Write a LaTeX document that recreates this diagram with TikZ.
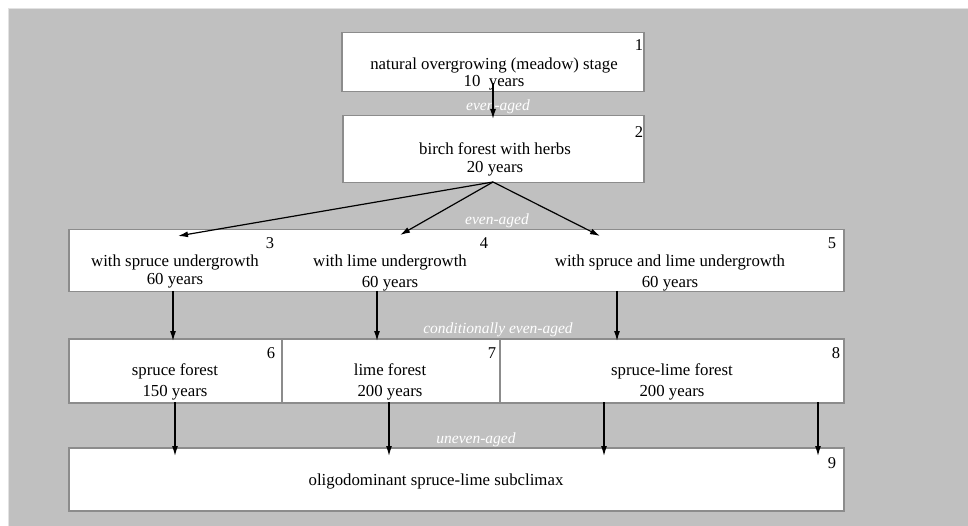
\documentclass[tikz,border=0pt]{standalone}
\usepackage{fontspec}
\setmainfont{Liberation Serif}
\usetikzlibrary{arrows.meta}
\definecolor{bggray}{HTML}{C0C0C0}
\definecolor{boxgray}{HTML}{8C8C8C}
\definecolor{edgegray}{HTML}{E2E2E2}
\tikzset{
  stagebox/.style={fill=white, draw=boxgray, line width=1.5pt, inner sep=0pt, anchor=north west},
  stagetext/.style={align=center, inner sep=0pt, font=\fontsize{16.8}{#1}\selectfont},
  stagetext/.default=19pt,
  numlab/.style={inner sep=0pt, font=\fontsize{16.5}{18}\selectfont},
  agelab/.style={inner sep=0pt, text=white, font=\fontsize{15.5}{17}\selectfont\itshape},
  arr/.style={line width=1.2pt, -{Latex[length=10pt,width=6pt]}}
}
\begin{document}
\begin{tikzpicture}[x=1pt,y=-1pt]
\useasboundingbox (0,0) rectangle (968,526);
\fill[white] (0,0) rectangle (968,526);
\fill[bggray] (8,9) rectangle (968,526);
\draw[edgegray, line width=1pt] (8,526) -- (8,9) -- (968,9);

% boxes
\node[stagebox, minimum width=302, minimum height=59] (b1) at (341,32) {};
\node[stagebox, minimum width=301, minimum height=67] (b2) at (342,115) {};
\node[stagebox, minimum width=775, minimum height=62] (r3) at (68,229) {};
\node[stagebox, minimum width=213, minimum height=64] (b6) at (68,338) {};
\node[stagebox, minimum width=218, minimum height=64] (b7) at (281,338) {};
\node[stagebox, minimum width=344, minimum height=64] (b8) at (499,338) {};
\node[stagebox, minimum width=775, minimum height=63] (b9) at (68,447) {};

% texts
\node[stagetext=17pt] (t1) at (494,74) {natural overgrowing (meadow) stage\\10~ years};
\node[stagetext=18pt] (t2) at (495,159) {birch forest with herbs\\20 years};
\node[stagetext=18pt] (t3) at (175,271) {with spruce undergrowth\\60 years};
\node[stagetext=21pt] (t4) at (390,272.5) {with lime undergrowth\\60 years};
\node[stagetext=21pt] (t5) at (670,272.5) {with spruce and lime undergrowth\\60 years};
\node[stagetext=21pt] (t6) at (175,381.5) {spruce forest\\150 years};
\node[stagetext=21pt] (t7) at (390,381.5) {lime forest\\200 years};
\node[stagetext=21pt] (t8) at (672,381.5) {spruce-lime forest\\200 years};
\node[stagetext] (t9) at (436,481) {oligodominant spruce-lime subclimax};

% numbers
\node[numlab] (n1) at (639,45) {1};
\node[numlab] (n2) at (639,132) {2};
\node[numlab] (n3) at (270,243) {3};
\node[numlab] (n4) at (484,243) {4};
\node[numlab] (n5) at (832,243) {5};
\node[numlab] (n6) at (271,353) {6};
\node[numlab] (n7) at (492,353) {7};
\node[numlab] (n8) at (836,353) {8};
\node[numlab] (n9) at (832,463) {9};

% connector end points
\coordinate (p1s) at (493,83);
\coordinate (p2n) at (493,119);
\coordinate (p2s) at (493,182);
\coordinate (p3n) at (178,236);
\coordinate (p4n) at (400,235);
\coordinate (p5n) at (600,236);
\coordinate (p3s) at (173,291);
\coordinate (p6n) at (173,341);
\coordinate (p4s) at (377,291);
\coordinate (p7n) at (377,341);
\coordinate (p5s) at (617,291);
\coordinate (p8n) at (617,341);
\coordinate (p6s) at (175,402);
\coordinate (p9a) at (175,456);
\coordinate (p7s) at (389,402);
\coordinate (p9b) at (389,456);
\coordinate (p8s) at (604,402);
\coordinate (p9c) at (604,456);
\coordinate (p8t) at (818,402);
\coordinate (p9d) at (818,456);

% age labels
\node[agelab] (l1) at (498,107) {even-aged};
\node[agelab] (l2) at (497,221) {even-aged};
\node[agelab] (l3) at (498,330) {conditionally even-aged};
\node[agelab] (l4) at (476,440) {uneven-aged};

% connectors
\draw[arr] (p1s) -- (p2n);
\draw[arr] (p2s) -- (p3n);
\draw[arr] (p2s) -- (p4n);
\draw[arr] (p2s) -- (p5n);
\draw[arr] (p3s) -- (p6n);
\draw[arr] (p4s) -- (p7n);
\draw[arr] (p5s) -- (p8n);
\draw[arr] (p6s) -- (p9a);
\draw[arr] (p7s) -- (p9b);
\draw[arr] (p8s) -- (p9c);
\draw[arr] (p8t) -- (p9d);
\end{tikzpicture}
\end{document}
